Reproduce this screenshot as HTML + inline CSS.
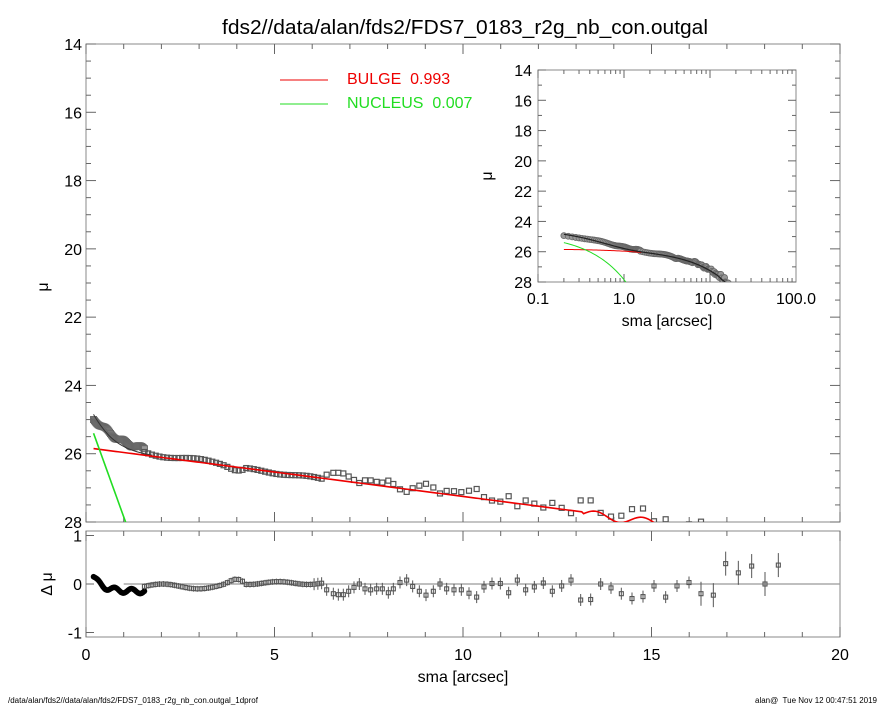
<!DOCTYPE html>
<html><head><meta charset="utf-8"><style>
html,body{margin:0;padding:0;background:#fff;}
svg{display:block;font-family:"Liberation Sans",sans-serif;}
</style></head><body>
<svg id="s" width="885" height="708" viewBox="0 0 885 708" xmlns="http://www.w3.org/2000/svg">
<rect width="885" height="708" fill="#fff"/>
<text x="465" y="34" font-size="20" text-anchor="middle" textLength="486" lengthAdjust="spacingAndGlyphs">fds2//data/alan/fds2/FDS7_0183_r2g_nb_con.outgal</text>
<g id="g"></g>
<text x="8" y="703" font-size="8">/data/alan/fds2//data/alan/fds2/FDS7_0183_r2g_nb_con.outgal_1dprof</text>
<text x="877" y="703" font-size="8" text-anchor="end">alan@&#160; Tue Nov 12 00:47:51 2019</text>
</svg>
<script>
var g=document.getElementById('g'),h='';
var X0=86,X1=840,Y0=44,Y1=522;
function mx(r){return X0+r*(X1-X0)/20;}
function my(m){return Y0+(m-14)*(Y1-Y0)/14;}
function ry(d){return 584-d*48.5;}
function bul(r){var b=25.85+0.143*(r-0.2);if(r>13.2)b+=0.12*Math.sin(r*5)+0.05;return b;}
function nuc(r){return 25.4+3.06*(r-0.2);}
function tot(r){var b=bul(r),n=nuc(r);return -2.5*Math.log10(Math.pow(10,-0.4*b)+Math.pow(10,-0.4*n));}
function px2r(X){return (X-X0)/((X1-X0)/20);}
var pts=[];
for(var r=0.2;r<1.55;r+=0.025){pts.push([r,0.15-0.3*(1-Math.exp(-(r-0.2)*4))+0.05*Math.sin((r-0.2)*14),1]);}
for(var r=1.55;r<6.3;r+=0.1){var v=0.05*Math.sin((r-1.55)*3.3)-0.05+0.05*Math.exp(-Math.pow((r-4)/0.25,2))*2;if(r>4.2)v=0.03*Math.sin(r*4)+0.02;pts.push([r,v,0]);}
var z2=[[800,-0.12],[820,-0.2],[835,-0.22],[850,-0.22],[866,-0.15],[882,-0.07],[898,0],[915,-0.1],[932,-0.12],[950,-0.1],[967,-0.1],[985,-0.18],[1000,-0.1],[1020,0.03],[1040,0.08],[1058,-0.05],[1078,-0.15],[1098,-0.23],[1120,-0.15]];
z2.forEach(function(p){pts.push([px2r(60+p[0]/3),p[1],0]);});
var z3=[[0,0],[20,-0.1],[42,-0.12],[64,-0.12],[87,-0.19],[110,-0.27],[132,-0.06],[156,0.01],[181,0.01],[206,-0.18],[232,0.08],[257,-0.12],[283,-0.06],[310,0.02],[337,-0.15],[365,-0.04],[393,0.08],[422,-0.33],[452,-0.32],[482,0],[513,-0.08],[544,-0.2],[576,-0.3],[609,-0.26],[642,-0.04],[677,-0.27],[711,-0.04],[747,0.03],[783,-0.2],[820,-0.23],[857,0.42],[895,0.23],[935,0.37],[975,0],[1015,0.39]];
z3.forEach(function(p){pts.push([px2r(440+p[0]/3),p[1],0]);});
function frame(x0,y0,x1,y1){return '<rect x="'+x0+'" y="'+y0+'" width="'+(x1-x0)+'" height="'+(y1-y0)+'" fill="none" stroke="#888" stroke-width="1"/>';}
h+=frame(X0,Y0,X1,Y1)+frame(X0,531,X1,637);
for(var i=0;i<=20;i++){var x=mx(i),L=(i%5==0)?10:5;
 h+='<line x1="'+x+'" y1="'+Y1+'" x2="'+x+'" y2="'+(Y1-L)+'" stroke="#666"/><line x1="'+x+'" y1="'+Y0+'" x2="'+x+'" y2="'+(Y0+L)+'" stroke="#666"/>';
 h+='<line x1="'+x+'" y1="637" x2="'+x+'" y2="'+(637-L)+'" stroke="#666"/><line x1="'+x+'" y1="531" x2="'+x+'" y2="'+(531+L)+'" stroke="#666"/>';}
[0,5,10,15,20].forEach(function(v){h+='<text x="'+mx(v)+'" y="660" font-size="16" text-anchor="middle">'+v+'</text>';});
h+='<text x="463" y="682" font-size="16" text-anchor="middle">sma [arcsec]</text>';
for(var m=14;m<=28;m+=0.5){var y=my(m),L=(m%2==0)?10:5;h+='<line x1="'+X0+'" y1="'+y+'" x2="'+(X0+L)+'" y2="'+y+'" stroke="#666"/><line x1="'+X1+'" y1="'+y+'" x2="'+(X1-L)+'" y2="'+y+'" stroke="#666"/>';
 if(m%2==0)h+='<text x="82" y="'+(y+6)+'" font-size="16" text-anchor="end">'+m+'</text>';}
h+='<text x="48" y="287" font-size="16" text-anchor="middle" transform="rotate(-90 48 287)">μ</text>';
[[1,'1'],[0,'0'],[-1,'-1']].forEach(function(p){h+='<text x="82" y="'+(ry(p[0])+6)+'" font-size="16" text-anchor="end">'+p[1]+'</text><line x1="'+X0+'" y1="'+ry(p[0])+'" x2="'+(X0+8)+'" y2="'+ry(p[0])+'" stroke="#666"/>';});
h+='<text x="52" y="584" font-size="16" text-anchor="middle" transform="rotate(-90 52 584)">Δ μ</text>';
h+='<line x1="'+mx(1)+'" y1="584" x2="'+X1+'" y2="584" stroke="#999" stroke-width="1.3"/>';
h+='<clipPath id="c1"><rect x="'+X0+'" y="'+Y0+'" width="'+(X1-X0)+'" height="'+(Y1-Y0)+'"/></clipPath><g clip-path="url(#c1)">';
pts.forEach(function(p){var x=mx(p[0]),y=my(tot(p[0])+p[1]);
 if(p[2])h+='<rect x="'+(x-3)+'" y="'+(y-3)+'" width="6" height="6" fill="#999" stroke="#666" stroke-width="1"/>';
 else h+='<rect x="'+(x-2.5)+'" y="'+(y-2.5)+'" width="5" height="5" fill="none" stroke="#555" stroke-width="1.2"/>';});
var s='',s2='',s3='';
for(var r=0.2;r<=16.6;r+=0.05){s+=mx(r)+','+my(bul(r))+' ';}
for(var r=0.2;r<=1.8;r+=0.05){s2+=mx(r)+','+my(tot(r))+' ';}
for(var r=0.2;r<=1.2;r+=0.05){s3+=mx(r)+','+my(nuc(r))+' ';}
h+='<polyline points="'+s2+'" fill="none" stroke="#333" stroke-width="1"/>';
h+='<polyline points="'+s+'" fill="none" stroke="#e00" stroke-width="1.6"/>';
h+='<polyline points="'+s3+'" fill="none" stroke="#2d2" stroke-width="1.6"/></g>';
pts.forEach(function(p){var x=mx(p[0]),y=ry(p[1]);
 if(p[2])h+='<circle cx="'+x+'" cy="'+y+'" r="2.8" fill="#000"/>';
 else{var e=p[0]>16?12:(p[0]>6?6:3);h+='<line x1="'+x+'" y1="'+(y-e)+'" x2="'+x+'" y2="'+(y+e)+'" stroke="#555"/><rect x="'+(x-2)+'" y="'+(y-2)+'" width="4" height="4" fill="none" stroke="#555" stroke-width="1.1"/>';}});
h+='<line x1="280" y1="80" x2="328" y2="80" stroke="#e00"/><text x="347" y="80" font-size="16" fill="#e00" dominant-baseline="middle">BULGE&#160; 0.993</text>';
h+='<line x1="280" y1="104" x2="328" y2="104" stroke="#2d2"/><text x="347" y="104" font-size="16" fill="#2d2" dominant-baseline="middle">NUCLEUS&#160; 0.007</text>';
var IX0=538,IX1=796,IY0=70,IY1=282;
function ix(r){return IX0+(Math.log10(r)+1)*(IX1-IX0)/3;}
function iy(m){return IY0+(m-14)*(IY1-IY0)/14;}
h+='<rect x="'+IX0+'" y="'+IY0+'" width="'+(IX1-IX0)+'" height="'+(IY1-IY0)+'" fill="#fff" stroke="#888"/>';
for(var d=-1;d<2;d++)for(var k=1;k<10;k++){var x=ix(k*Math.pow(10,d)),L=k==1?8:4;h+='<line x1="'+x+'" y1="'+IY1+'" x2="'+x+'" y2="'+(IY1-L)+'" stroke="#666"/><line x1="'+x+'" y1="'+IY0+'" x2="'+x+'" y2="'+(IY0+L)+'" stroke="#666"/>';}
[['0.1',0.1],['1.0',1],['10.0',10],['100.0',100]].forEach(function(p){h+='<text x="'+ix(p[1])+'" y="304" font-size="16" text-anchor="middle">'+p[0]+'</text>';});
h+='<text x="667" y="326" font-size="16" text-anchor="middle">sma [arcsec]</text>';
for(var m=14;m<=28;m+=1){var y=iy(m),L=(m%2==0)?8:4;h+='<line x1="'+IX0+'" y1="'+y+'" x2="'+(IX0+L)+'" y2="'+y+'" stroke="#666"/><line x1="'+IX1+'" y1="'+y+'" x2="'+(IX1-L)+'" y2="'+y+'" stroke="#666"/>';
 if(m%2==0)h+='<text x="532" y="'+(y+6)+'" font-size="16" text-anchor="end">'+m+'</text>';}
h+='<text x="492" y="176" font-size="16" text-anchor="middle" transform="rotate(-90 492 176)">μ</text>';
h+='<clipPath id="c2"><rect x="'+IX0+'" y="'+IY0+'" width="'+(IX1-IX0)+'" height="'+(IY1-IY0)+'"/></clipPath><g clip-path="url(#c2)">';
pts.forEach(function(p){h+='<circle cx="'+ix(p[0])+'" cy="'+iy(tot(p[0])+p[1]*0.6)+'" r="3" fill="#999" stroke="#666" stroke-width="0.8"/>';});
var a='',b='',c='';
for(var l=Math.log10(0.2);l<=Math.log10(17);l+=0.02){var r=Math.pow(10,l);a+=ix(r)+','+iy(tot(r))+' ';if(r<1.6)b+=ix(r)+','+iy(bul(r))+' ';if(r<1.2)c+=ix(r)+','+iy(nuc(r))+' ';}
h+='<polyline points="'+b+'" fill="none" stroke="#e00"/><polyline points="'+c+'" fill="none" stroke="#2d2"/><polyline points="'+a+'" fill="none" stroke="#222" stroke-width="1.2"/></g>';
g.innerHTML=h;
</script>
</body></html>
